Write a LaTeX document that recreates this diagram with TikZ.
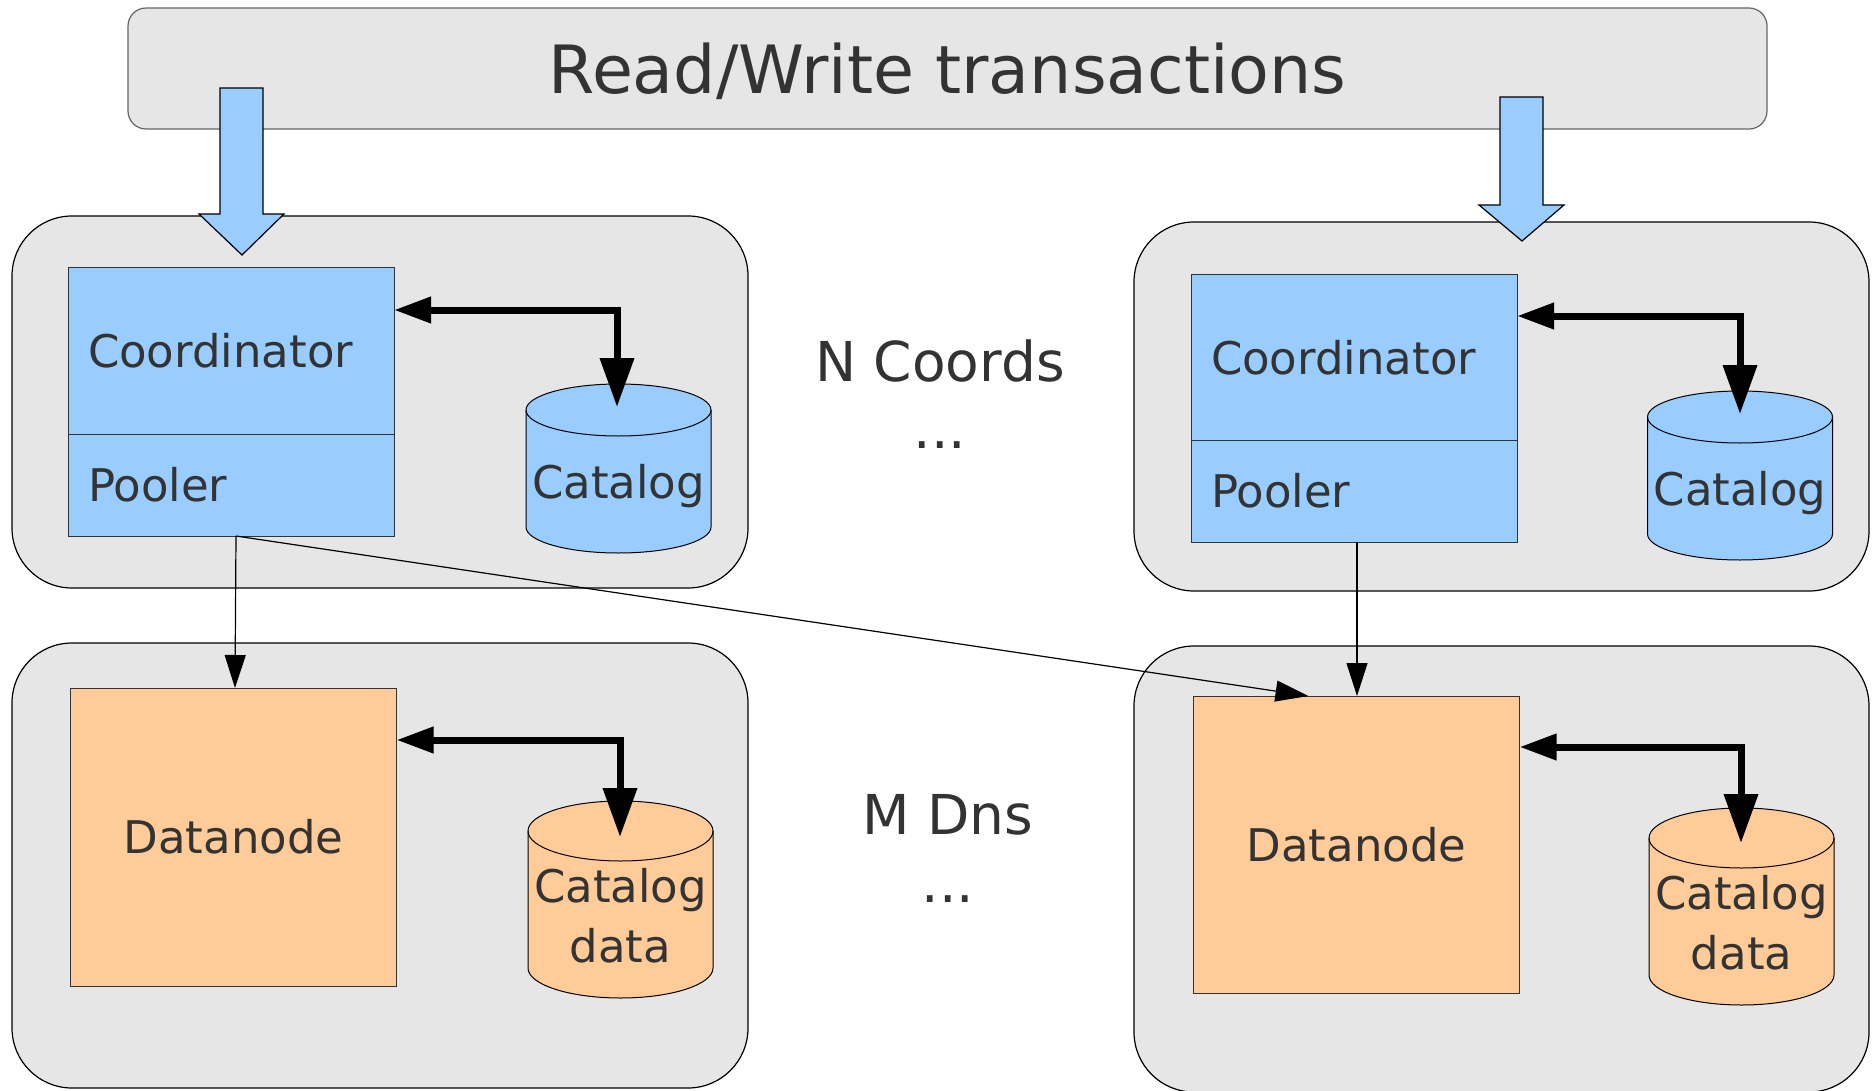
\documentclass[tikz,border=0pt]{standalone}
\usepackage{fontspec}
\setmainfont{DejaVu Sans}
\usetikzlibrary{positioning,arrows.meta}

\definecolor{panelgray}{HTML}{E6E6E6}
\definecolor{coordblue}{HTML}{99CCFF}
\definecolor{dnorange}{HTML}{FFCC99}
\definecolor{inkgray}{HTML}{333333}

% cylinder round a named box: #1 node, #2 fill, #3 half height of the end ellipses
\newcommand{\drum}[3]{%
  \filldraw[fill=#2, draw=black, line width=0.5pt]
    ([yshift=-#3]#1.north west) -- ([yshift=#3]#1.south west)
    arc (180:360:46.25pt and #3) -- ([yshift=-#3]#1.north east)
    arc (0:180:46.25pt and #3) -- cycle;
  \draw[line width=0.5pt] ([yshift=-#3]#1.north west) arc (180:360:46.25pt and #3);
}

\tikzset{
  panel/.style={draw=black, fill=panelgray, rounded corners=30pt, line width=0.6pt, inner sep=0pt, outer sep=0pt},
  part/.style={draw=inkgray, line width=0.5pt, inner xsep=10pt, inner ysep=0pt, outer sep=0pt,
    text width=143pt, align=left, text=inkgray, font=\fontsize{22.5}{27}\selectfont},
  dbbox/.style={minimum width=92.5pt, inner sep=0pt, outer sep=0pt},
  txt/.style={text=inkgray, font=\fontsize{22.5}{30}\selectfont, align=center},
  bigtxt/.style={text=inkgray, font=\fontsize{27.5}{33}\selectfont},
  biglink/.style={line width=3.5pt, {Triangle[length=18.5pt,width=12.5pt]}-{Triangle[length=24.5pt,width=16.5pt]}},
  link/.style={line width=0.6pt, -{Triangle[length=16.5pt,width=10.5pt]}},
  inflow/.style={draw=black, fill=coordblue, line width=0.6pt}
}

\begin{document}
\begin{tikzpicture}[x=0.5pt,y=-0.5pt]
  \useasboundingbox (0,0) rectangle (1873,1091);

  % transactions
  \node[panel, draw=black!60, rounded corners=9pt, minimum width=819.5pt, minimum height=60.5pt,
    text depth=0pt, text=inkgray, font=\fontsize{33.3}{40}\selectfont] (rw) at (947.5,68.5) {Read/Write transactions};

  % host panels
  \node[panel, minimum width=368pt, minimum height=186pt] (hostA) at (380,402) {};
  \node[panel, minimum width=367.5pt, minimum height=184.5pt] (hostB) at (1501.5,406.5) {};
  \node[panel, minimum width=368pt, minimum height=222.5pt] (hostC) at (380,865.5) {};
  \node[panel, minimum width=367.5pt, minimum height=223pt] (hostD) at (1501.5,869) {};

  % incoming transactions
  \draw[inflow] (220,88) -- (263,88) -- (263,214) -- (284,214) -- (242,255) -- (199,214) -- (220,214) -- cycle;
  \draw[inflow] (1500,97) -- (1543,97) -- (1543,205) -- (1564,205) -- (1522,241) -- (1479,205) -- (1500,205) -- cycle;

  % coordinators
  \node[part, fill=coordblue, minimum height=83pt] (coordA) at (231,351) {Coordinator};
  \node[part, fill=coordblue, minimum height=51pt, below=0pt of coordA] (poolA) {Pooler};
  \node[part, fill=coordblue, minimum height=82.5pt] (coordB) at (1354,357.5) {Coordinator};
  \node[part, fill=coordblue, minimum height=51pt, below=0pt of coordB] (poolB) {Pooler};

  % datanodes
  \node[part, fill=dnorange, align=center, minimum height=149pt] (dnC) at (233.5,837) {Datanode};
  \node[part, fill=dnorange, align=center, minimum height=148.5pt] (dnD) at (1356.5,844.5) {Datanode};

  % catalogs
  \node[dbbox, minimum height=84.5pt] (catA) at (618.5,468.5) {};
  \drum{catA}{coordblue}{13pt}
  \node[txt, yshift=-9pt] (catAtext) at (catA.center) {Catalog};
  \node[dbbox, minimum height=84.5pt] (catB) at (1740,475.5) {};
  \drum{catB}{coordblue}{13pt}
  \node[txt, yshift=-9pt] (catBtext) at (catB.center) {Catalog};
  \node[dbbox, minimum height=98.5pt] (dataC) at (620.5,899.5) {};
  \drum{dataC}{dnorange}{15pt}
  \node[txt, yshift=-8pt] (dataCtext) at (dataC.center) {Catalog\\data};
  \node[dbbox, minimum height=98.5pt] (dataD) at (1741.5,906.5) {};
  \drum{dataD}{dnorange}{15pt}
  \node[txt, yshift=-8pt] (dataDtext) at (dataD.center) {Catalog\\data};

  % catalog access
  \coordinate (kneeA) at (617,310);
  \coordinate (tipA) at (617,407);
  \draw[biglink] (kneeA -| coordA.east) -- (kneeA) -- (tipA);
  \coordinate (kneeB) at (1740,316);
  \coordinate (tipB) at (1740,414);
  \draw[biglink] (kneeB -| coordB.east) -- (kneeB) -- (tipB);
  \coordinate (kneeC) at (620,740);
  \coordinate (tipC) at (620,837);
  \draw[biglink] (kneeC -| dnC.east) -- (kneeC) -- (tipC);
  \coordinate (kneeD) at (1741,747);
  \coordinate (tipD) at (1741,843);
  \draw[biglink] (kneeD -| dnD.east) -- (kneeD) -- (tipD);

  % pooler connections
  \draw[link] ([xshift=2.5pt]poolA.south) -- ([xshift=0.75pt]dnC.north);
  \draw[link] ([xshift=2.5pt]poolA.south) -- ([xshift=-24pt]dnD.north);
  \draw[link] ([xshift=1.5pt]poolB.south) -- ([xshift=0.25pt]dnD.north);

  % counts
  \node[bigtxt] (ncoords) at (940,361) {N Coords};
  \node[bigtxt, anchor=base] (ndots) at (940,448) {...};
  \node[bigtxt] (mdns) at (948,815) {M Dns};
  \node[bigtxt, anchor=base] (mdots) at (948,902) {...};
\end{tikzpicture}
\end{document}
